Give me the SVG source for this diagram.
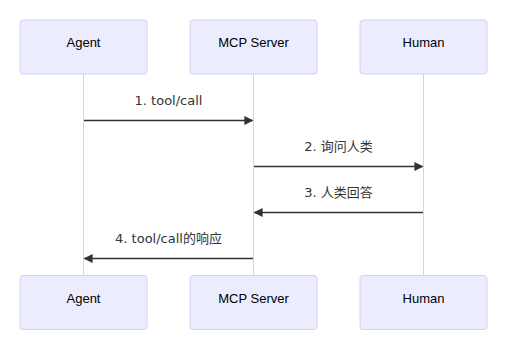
<svg xmlns="http://www.w3.org/2000/svg" width="510" height="353" viewBox="0 0 510 353">
<style>
.actor{fill:#ECECFF;stroke:#DACEF3;stroke-width:1}
.atext{font-family:"Liberation Sans",Arial,sans-serif;font-size:13px;fill:#000;text-anchor:middle}
.life{stroke:#DACEF3;stroke-width:1}
.msg{stroke:#333;stroke-width:1.5;fill:none;marker-end:url(#arrow)}
.mtext{font-family:"DejaVu Sans","Noto Sans CJK SC",sans-serif;font-size:13px;fill:#333;text-anchor:middle}
</style>
<defs>
<marker id="arrow" viewBox="0 0 10 10" refX="9" refY="5" markerWidth="9" markerHeight="9" markerUnits="userSpaceOnUse" orient="auto">
<path d="M0,0 L10,5 L0,10 z" fill="#333"/>
</marker>
</defs>
<rect width="510" height="353" fill="#fff"/>
<g id="lifelines">
<line class="life" x1="83.5" y1="74" x2="83.5" y2="275"/>
<line class="life" x1="253.5" y1="74" x2="253.5" y2="275"/>
<line class="life" x1="423.5" y1="74" x2="423.5" y2="275"/>
</g>
<g id="agent-top"><rect class="actor" x="20" y="20" width="127" height="54" rx="3"/><text class="atext" x="83.5" y="47">Agent</text></g>
<g id="mcp-top"><rect class="actor" x="190" y="20" width="127" height="54" rx="3"/><text class="atext" x="253.5" y="47">MCP Server</text></g>
<g id="human-top"><rect class="actor" x="360" y="20" width="127" height="54" rx="3"/><text class="atext" x="423.5" y="47">Human</text></g>
<g id="agent-bottom"><rect class="actor" x="20" y="275.5" width="127" height="54" rx="3"/><text class="atext" x="83.5" y="303">Agent</text></g>
<g id="mcp-bottom"><rect class="actor" x="190" y="275.5" width="127" height="54" rx="3"/><text class="atext" x="253.5" y="303">MCP Server</text></g>
<g id="human-bottom"><rect class="actor" x="360" y="275.5" width="127" height="54" rx="3"/><text class="atext" x="423.5" y="303">Human</text></g>
<g id="connectors">
<line class="msg" x1="84" y1="120.5" x2="252.5" y2="120.5"/>
<text class="mtext" x="168.5" y="105">1. tool/call</text>
<line class="msg" x1="254" y1="166.5" x2="422.5" y2="166.5"/>
<text class="mtext" x="338.5" y="151">2. 询问人类</text>
<line class="msg" x1="423" y1="212.5" x2="254.5" y2="212.5"/>
<text class="mtext" x="338.5" y="197">3. 人类回答</text>
<line class="msg" x1="253" y1="258.5" x2="84.5" y2="258.5"/>
<text class="mtext" x="168.5" y="243">4. tool/call的响应</text>
</g>
</svg>
